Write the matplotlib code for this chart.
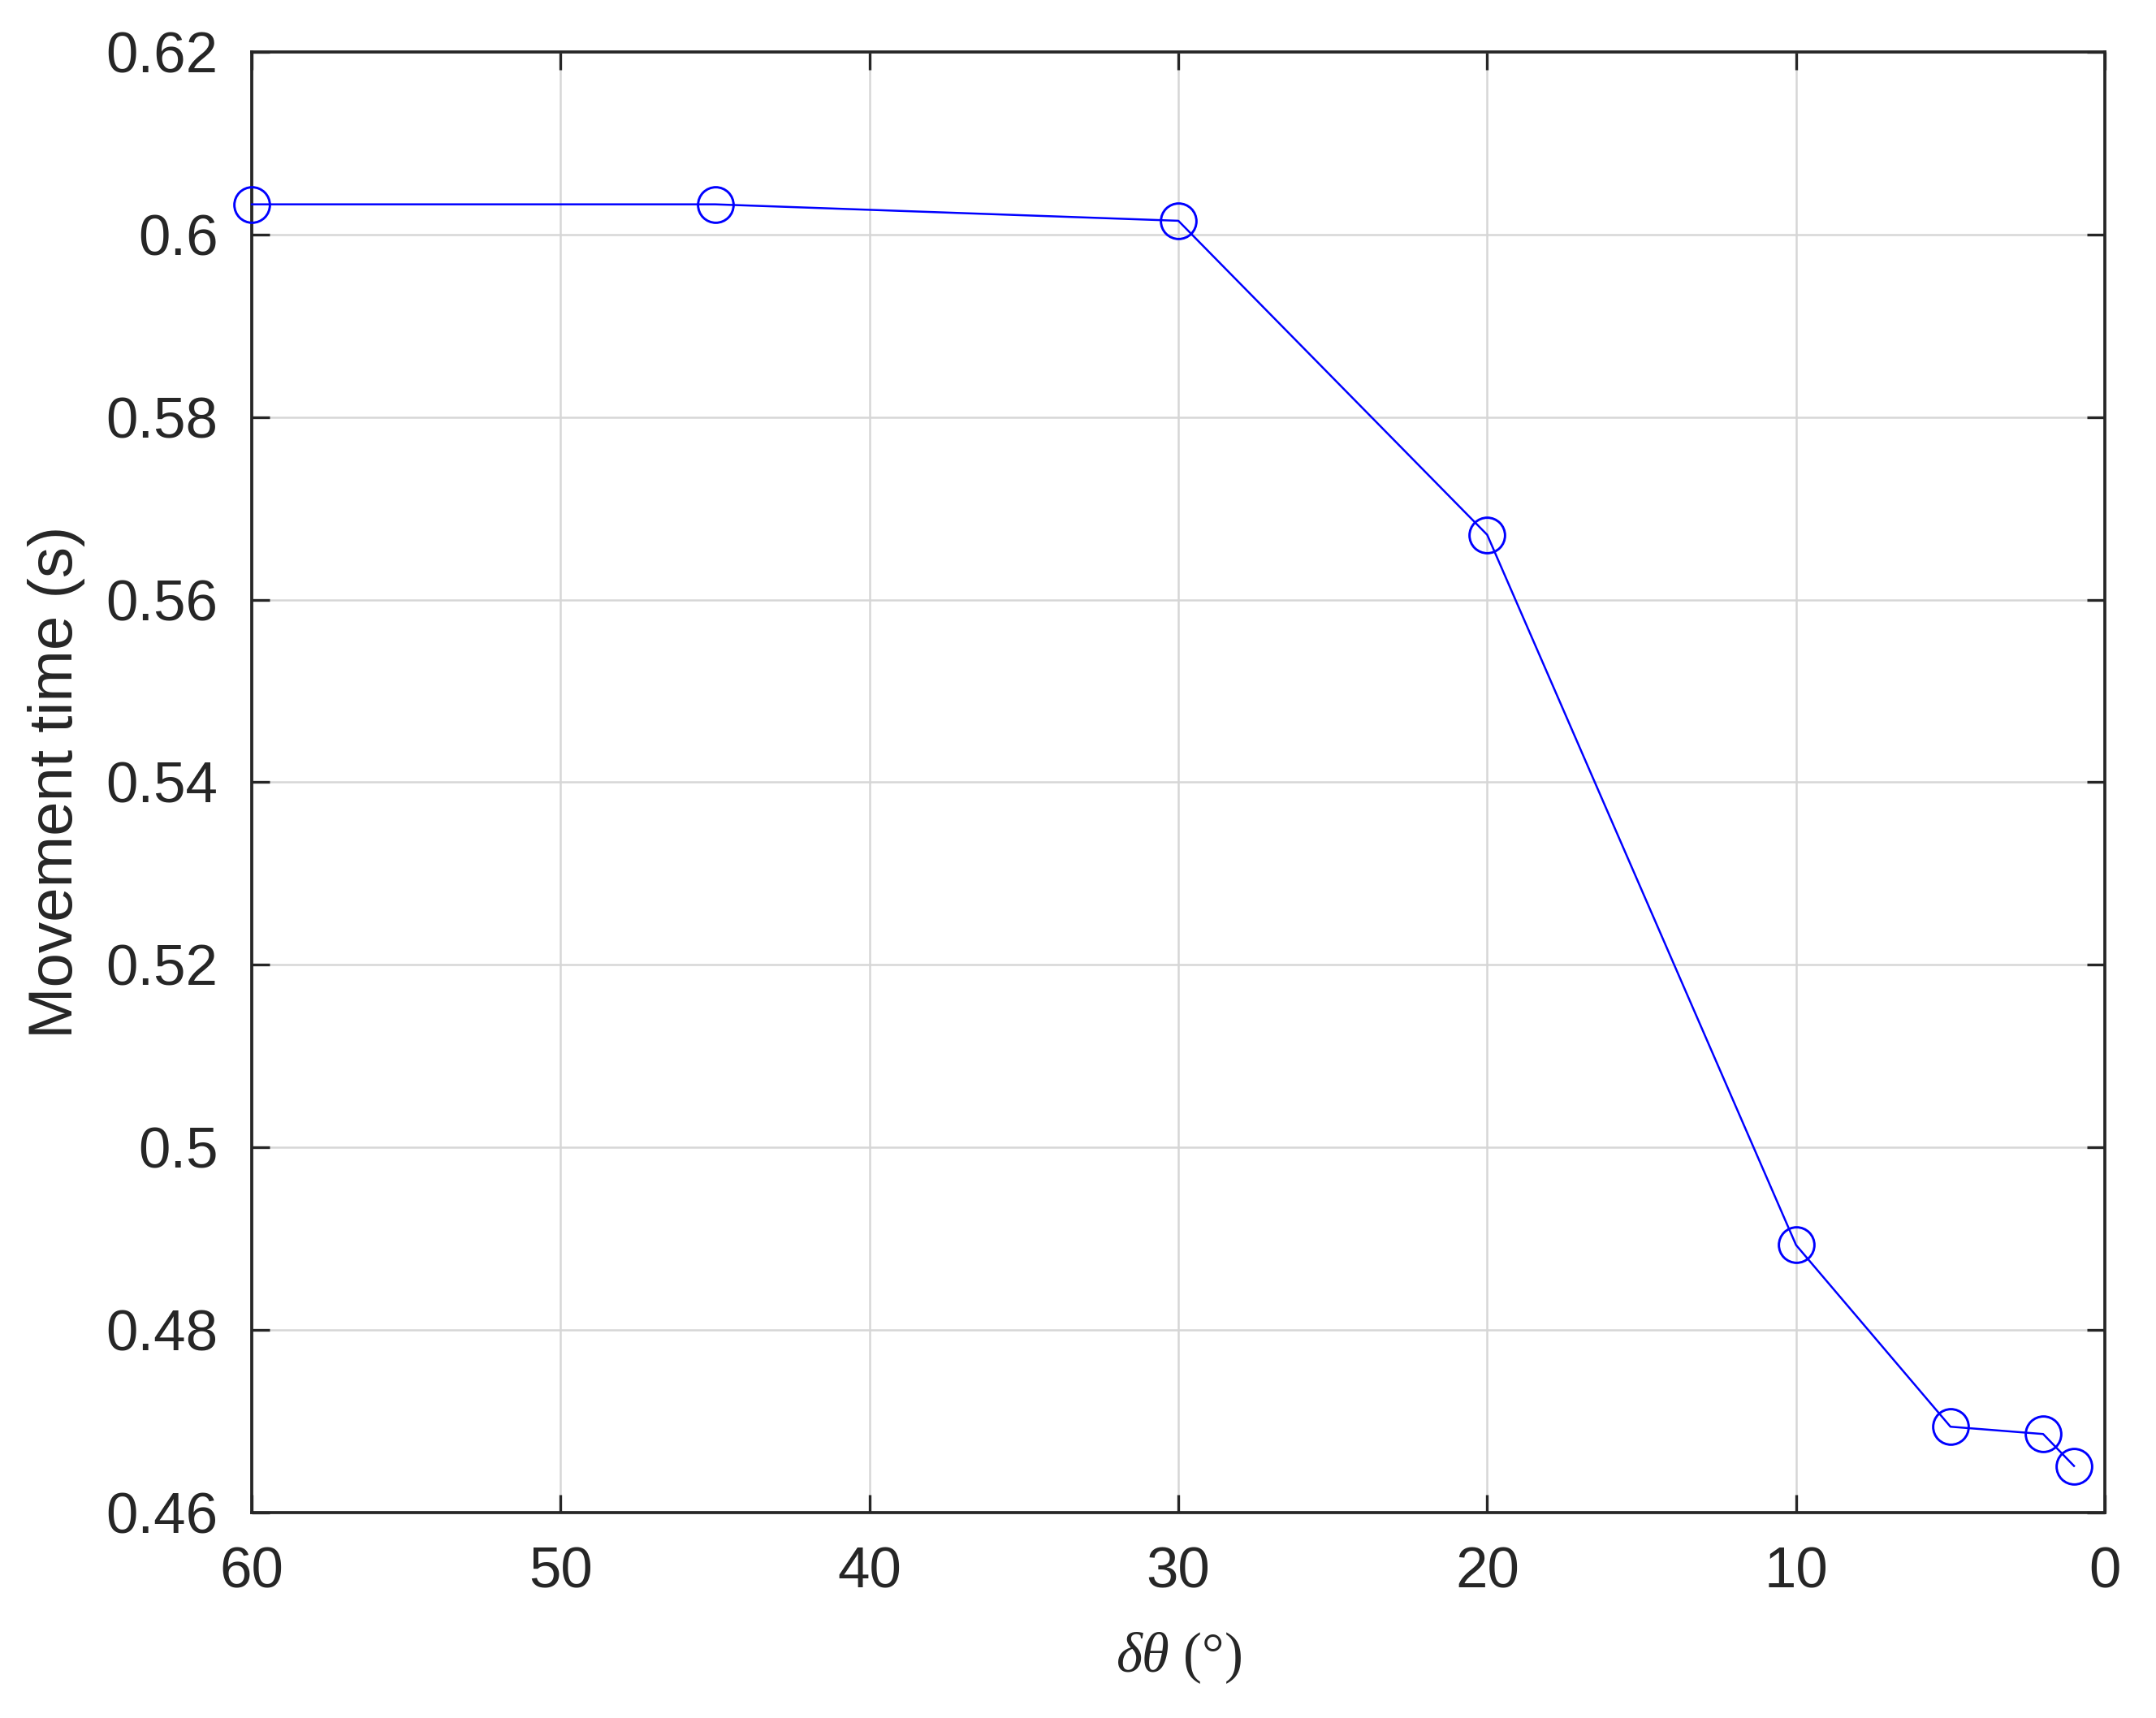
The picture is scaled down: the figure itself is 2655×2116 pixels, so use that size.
import matplotlib.pyplot as plt
import numpy as np

plt.rcParams['font.family'] = ['Liberation Sans', 'DejaVu Sans']
plt.rcParams['mathtext.fontset'] = 'custom'
plt.rcParams['mathtext.it'] = 'Liberation Serif:italic'
plt.rcParams['mathtext.rm'] = 'Liberation Serif'

# Данные
d_theta = [60, 45, 30, 20, 10, 5, 2, 1]
move_time = [0.6033, 0.6033, 0.6015, 0.5671, 0.4893, 0.4694, 0.4686, 0.4651]

x_ticks = [60, 50, 40, 30, 20, 10, 0]
y_ticks = [0.46, 0.48, 0.5, 0.52, 0.54, 0.56, 0.58, 0.6, 0.62]
y_labels = ['0.46', '0.48', '0.5', '0.52', '0.54', '0.56', '0.58', '0.6', '0.62']

fig = plt.figure(figsize=(2655 / 300, 2116 / 300), dpi=300)
ax = fig.add_axes([0.1168, 0.1196, 0.9763 - 0.1168, 0.9698 - 0.1196])

ax.plot(d_theta, move_time, '-o', color='blue', lw=0.6,
        markersize=10.5, markerfacecolor='none', markeredgewidth=0.7,
        clip_on=False, zorder=3)

ax.set_xlim(60, 0)
ax.set_ylim(0.46, 0.62)
ax.set_xticks(x_ticks)
ax.set_yticks(y_ticks)
ax.set_yticklabels(y_labels)

dark = '#262626'
ax.grid(True, color='#d6d6d6', linewidth=0.6)
ax.set_axisbelow(True)
for s in ax.spines.values():
    s.set_color(dark)
    s.set_linewidth(0.9)
ax.tick_params(direction='in', top=True, right=True, length=5.2, width=0.8,
               colors=dark, labelsize=17, pad=10)

ax.set_ylabel('Movement time (s)', fontsize=18.3, color=dark, labelpad=6)
ax.set_xlabel(r'$\delta\theta$ (°)', fontsize=16.5, color=dark,
              family='Liberation Serif', labelpad=9)

plt.savefig('out.png', dpi=300)
